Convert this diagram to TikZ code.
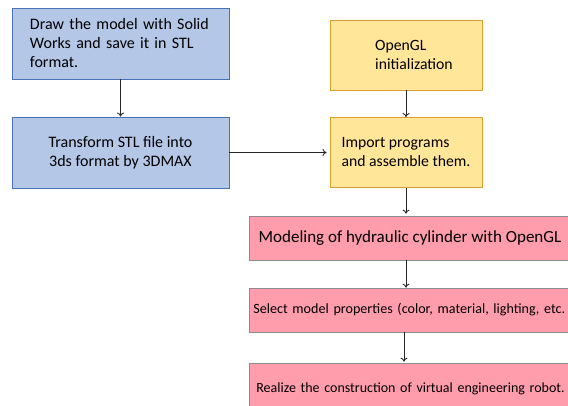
\documentclass[tikz,border=0pt]{standalone}
\usepackage{fontspec}
\setmainfont{Carlito}
\usetikzlibrary{arrows.meta}

\definecolor{bluefill}{HTML}{B4C7E7}
\definecolor{blueline}{HTML}{4A72B8}
\definecolor{yellowfill}{HTML}{FFE699}
\definecolor{yellowline}{HTML}{D9A030}
\definecolor{pinkfill}{HTML}{FF9DAD}
\definecolor{pinkline}{HTML}{8C8C8C}

\begin{document}
\begin{tikzpicture}
  [x=1pt,y=-1pt,
   bluebox/.style={draw=blueline,fill=bluefill,line width=0.9pt,minimum width=217pt,minimum height=71pt,inner sep=0pt,font=\fontsize{16}{19}\selectfont},
   yellowbox/.style={draw=yellowline,fill=yellowfill,line width=0.9pt,minimum width=152pt,minimum height=70pt,inner sep=0pt,align=left,font=\fontsize{15.7}{19}\selectfont},
   pinkbox/.style={draw=pinkline,fill=pinkfill,line width=0.7pt,minimum width=322pt,minimum height=44pt,inner sep=0pt,font=\fontsize{17}{19}\selectfont},
   flow/.style={draw=black!85,line width=0.9pt,-{To[length=4pt,width=7pt]}}]

  \useasboundingbox (0,0) rectangle (568,405);
  \clip (0,0) rectangle (568,405);

  \node[bluebox,text width=181pt,align=left] (b1) at (120.5,43.5) {Draw the model with Solid\\Works and save it in STL\\format.};
  \node[bluebox,align=center] (b2) at (120.5,152.5) {Transform STL file into\\3ds format by 3DMAX};
  \node[yellowbox] (y1) at (406,55) {};
  \node[yellowbox,draw=none,fill=none,minimum width=0pt,minimum height=0pt] (y1text) at (414,55) {OpenGL\\initialization};
  \node[yellowbox] (y2) at (406,152.5) {Import programs\\and assemble them.};
  \node[pinkbox] (p1) at (410,238) {Modeling of hydraulic cylinder with OpenGL};
  \node[pinkbox,anchor=west,inner xsep=4pt,font=\fontsize{14.1}{17}\selectfont,text width=340pt,align=left] (p2) at (249,310) {Select model properties (color, material, lighting, etc.};
  \node[pinkbox,anchor=west,inner xsep=7pt,minimum height=52pt,font=\fontsize{14}{17}\selectfont,text width=330pt,align=left] (p3) at (249,389) {Realize the construction of virtual engineering robot.};

  \draw[flow] (b1) -- (b2);
  \draw[flow] (y1) -- (y2);
  \draw[flow,shorten >=3pt] (b2) -- (y2);
  \draw[flow,shorten >=2pt] (y2) -- (y2 |- p1.north);
  \draw[flow] (p1.south -| y2) -- (p2.north -| y2);
  \draw[flow,shorten >=1pt] ([xshift=-2pt]p2.south -| y2) -- ([xshift=-2pt]p3.north -| y2);
\end{tikzpicture}
\end{document}
